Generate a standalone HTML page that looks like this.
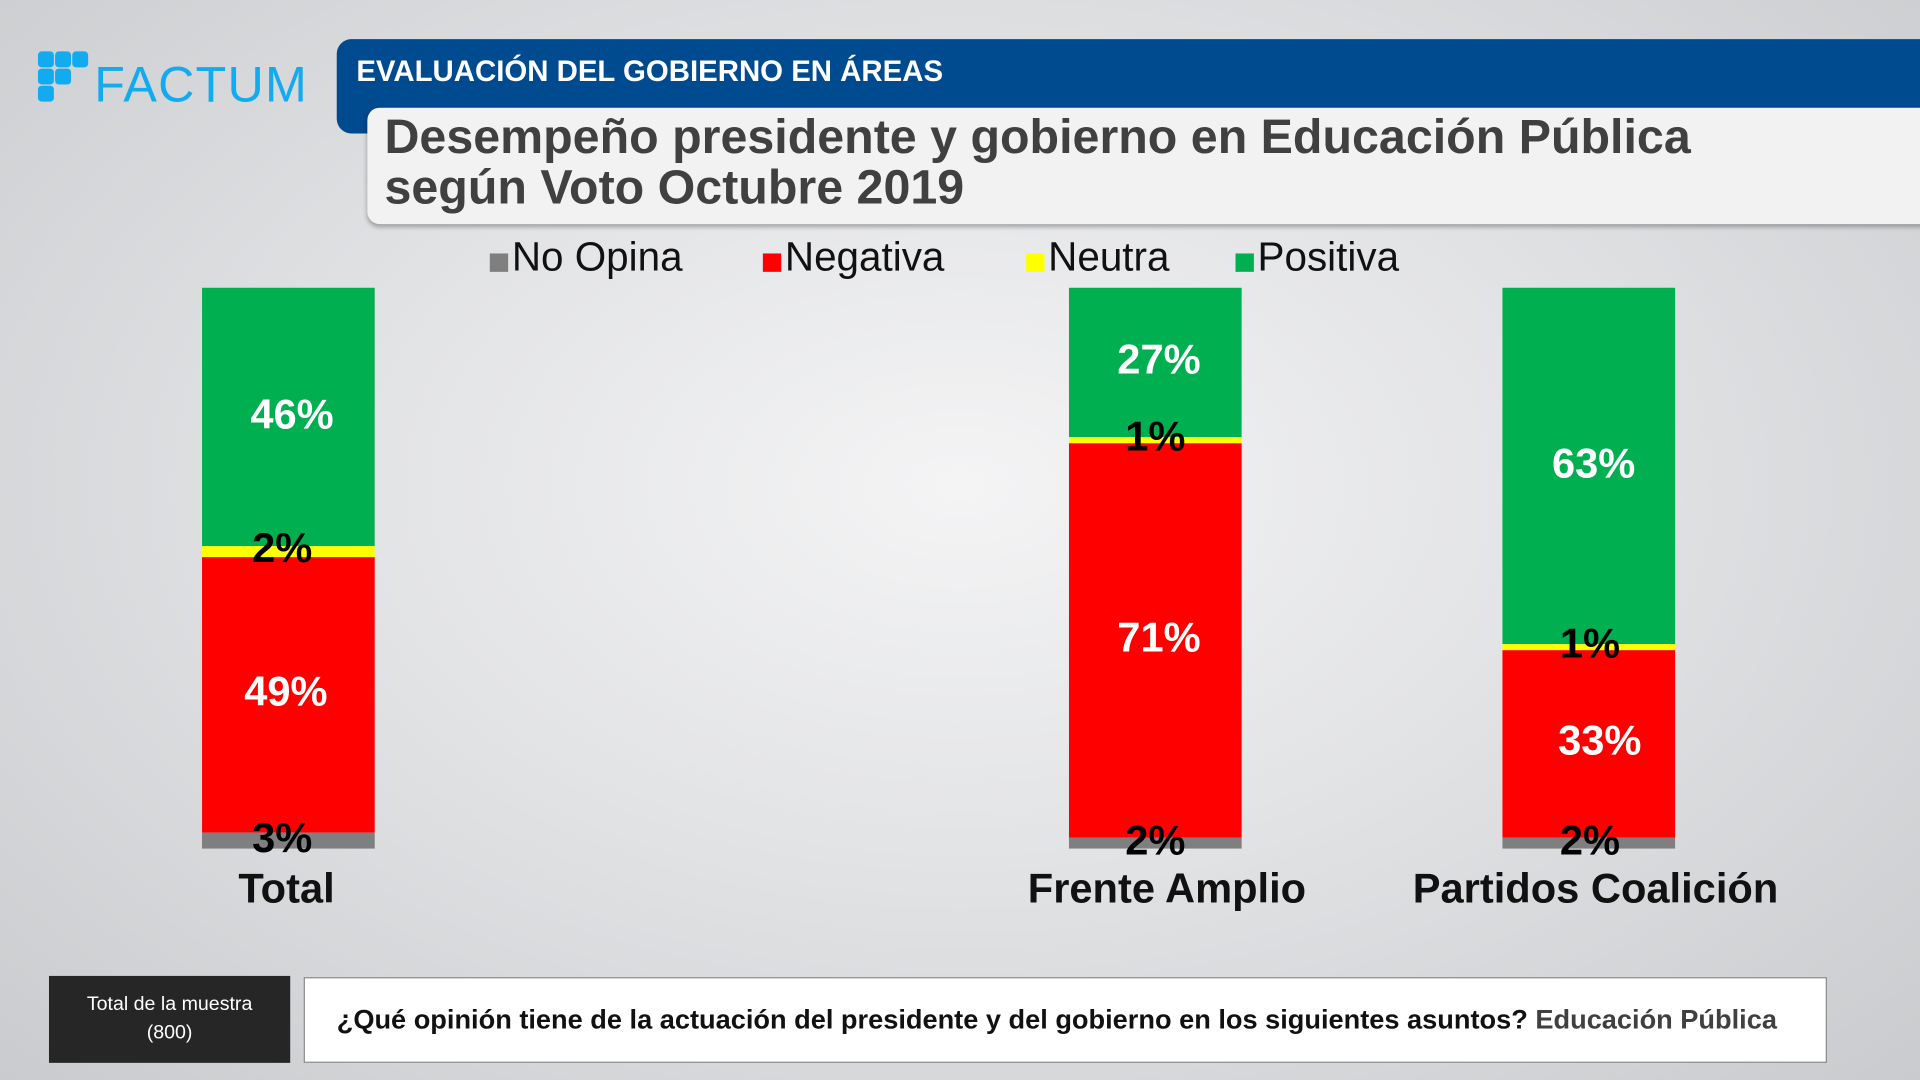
<!DOCTYPE html>
<html><head><meta charset="utf-8"><style>
html,body{margin:0;padding:0;width:1920px;height:1080px;overflow:hidden}
#s{position:absolute;left:0;top:0;width:1568px;height:882px;transform:scale(1.22449);transform-origin:0 0;
background:radial-gradient(ellipse at 50% 45%,#f4f4f5 0%,#e2e3e5 45%,#c9cbce 100%);font-family:"Liberation Sans",sans-serif;overflow:hidden}
.a{position:absolute}
.sq{position:absolute;width:13px;height:13px;background:#12abef;border-radius:3px}
.bar{position:absolute;width:141px}
.lbl{position:absolute;width:141px;text-align:center;font-weight:bold;font-size:34px;line-height:34px}
.cat{position:absolute;font-weight:bold;font-size:34px;color:#111;text-align:center;width:400px}
.lg{position:absolute;top:192px;font-size:33px;color:#111;line-height:36px}
.lg i{display:inline-block;width:15px;height:15px;margin-right:3px;vertical-align:-1px}
</style></head><body><div id="s">
<div class="sq" style="left:31px;top:42px"></div><div class="sq" style="left:45px;top:42px"></div><div class="sq" style="left:59px;top:42px"></div>
<div class="sq" style="left:31px;top:56px"></div><div class="sq" style="left:45px;top:56px"></div>
<div class="sq" style="left:31px;top:70px"></div>
<div class="a" style="left:77px;top:46px;font-size:41px;color:#12abef;letter-spacing:1px">FACTUM</div>
<div class="a" style="left:275px;top:32px;width:1300px;height:77px;background:#004a8f;border-radius:12px 0 0 12px"></div>
<div class="a" style="left:291px;top:45px;font-size:24px;font-weight:bold;color:#fff">EVALUACIÓN DEL GOBIERNO EN ÁREAS</div>
<div class="a" style="left:300px;top:88px;width:1280px;height:95px;background:#f2f2f2;border-radius:10px 0 0 10px;box-shadow:0 2px 4px rgba(0,0,0,.3)"></div>
<div class="a" style="left:314px;top:92px;font-size:39.5px;font-weight:bold;color:#404040;line-height:41px">Desempeño presidente y gobierno en Educación Pública<br>según Voto Octubre 2019</div>
<div class="lg" style="left:400px"><i style="background:#7f7f7f"></i>No Opina</div>
<div class="lg" style="left:623px"><i style="background:#ff0000"></i>Negativa</div>
<div class="lg" style="left:838px"><i style="background:#ffff00"></i>Neutra</div>
<div class="lg" style="left:1009px"><i style="background:#00b050"></i>Positiva</div>

<div class="bar" style="left:165px;top:235px;height:211px;background:#00b050"></div>
<div class="bar" style="left:165px;top:446px;height:9px;background:#ffff00"></div>
<div class="bar" style="left:165px;top:455px;height:225px;background:#ff0000"></div>
<div class="bar" style="left:165px;top:680px;height:13px;background:#7f7f7f"></div>
<div class="lbl" style="left:168px;top:322px;color:#fff">46%</div>
<div class="lbl" style="left:160px;top:431px;color:#000">2%</div>
<div class="lbl" style="left:163px;top:548px;color:#fff">49%</div>
<div class="lbl" style="left:160px;top:668px;color:#000">3%</div>

<div class="bar" style="left:873px;top:235px;height:122px;background:#00b050"></div>
<div class="bar" style="left:873px;top:357px;height:5px;background:#ffff00"></div>
<div class="bar" style="left:873px;top:362px;height:322px;background:#ff0000"></div>
<div class="bar" style="left:873px;top:684px;height:9px;background:#7f7f7f"></div>
<div class="lbl" style="left:876px;top:277px;color:#fff">27%</div>
<div class="lbl" style="left:873px;top:340px;color:#000">1%</div>
<div class="lbl" style="left:876px;top:504px;color:#fff">71%</div>
<div class="lbl" style="left:873px;top:670px;color:#000">2%</div>

<div class="bar" style="left:1227px;top:235px;height:291px;background:#00b050"></div>
<div class="bar" style="left:1227px;top:526px;height:5px;background:#ffff00"></div>
<div class="bar" style="left:1227px;top:531px;height:153px;background:#ff0000"></div>
<div class="bar" style="left:1227px;top:684px;height:9px;background:#7f7f7f"></div>
<div class="lbl" style="left:1231px;top:362px;color:#fff">63%</div>
<div class="lbl" style="left:1228px;top:509px;color:#000">1%</div>
<div class="lbl" style="left:1236px;top:588px;color:#fff">33%</div>
<div class="lbl" style="left:1228px;top:670px;color:#000">2%</div>

<div class="cat" style="left:34px;top:707px">Total</div>
<div class="cat" style="left:753px;top:707px">Frente Amplio</div>
<div class="cat" style="left:1103px;top:707px">Partidos Coalición</div>

<div class="a" style="left:40px;top:797px;width:197px;height:71px;background:#262626;color:#fff;font-size:16px;text-align:center;line-height:23px;padding-top:12px;box-sizing:border-box">Total de la muestra<br>(800)</div>
<div class="a" style="left:248px;top:798px;width:1244px;height:70px;background:#fff;border:1px solid #888;box-sizing:border-box;font-size:22.2px;font-weight:bold;color:#111;line-height:68px;padding-left:26px;white-space:nowrap">¿Qué opinión tiene de la actuación del presidente y del gobierno en los siguientes asuntos? <span style="color:#404040">Educación Pública</span></div>
</div></body></html>
